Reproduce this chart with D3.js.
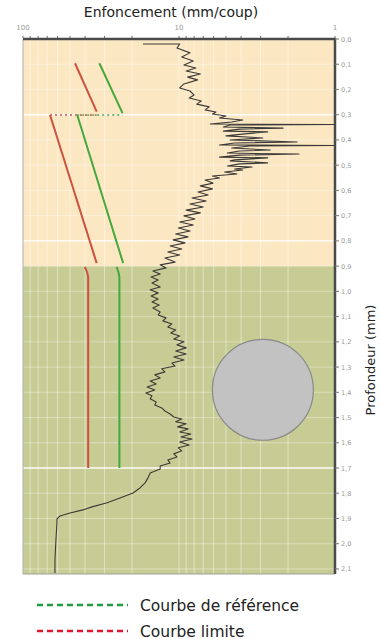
<!DOCTYPE html>
<html><head><meta charset="utf-8">
<script src="https://cdn.jsdelivr.net/npm/d3@7/dist/d3.min.js"></script>
<style>
html,body{margin:0;padding:0;background:#fff;}
svg{display:block;}
</style></head>
<body>
<svg id="c" width="380" height="639"></svg>
<script>
// ---- data ----
const xTickLabels = ["100", "10", "1"];
const xTickValues = [100, 10, 1];
const depthTicks = [0,0.1,0.2,0.3,0.4,0.5,0.6,0.7,0.8,0.9,1.0,1.1,1.2,1.3,1.4,1.5,1.6,1.7,1.8,1.9,2.0,2.1];
const depthTickLabels = ["0,0","0,1","0,2","0,3","0,4","0,5","0,6","0,7","0,8","0,9","1,0","1,1","1,2","1,3","1,4","1,5","1,6","1,7","1,8","1,9","2,0","2,1"];
const layerNames = ["Couche 1", "Couche 2"];
const layerTop = [0, 0.9];
const layerBottom = [0.9, 2.12];

// penetrogram (depth, mm/coup)
const profDepth = [0.020,0.020,0.036,0.055,0.071,0.087,0.103,0.115,0.127,0.139,0.151,0.162,0.178,0.194,0.206,0.222,0.234,0.246,0.258,0.269,0.281,0.289,0.297,0.305,0.313,0.321,0.329,0.337,0.339,0.341,0.349,0.353,0.357,0.365,0.368,0.376,0.384,0.392,0.400,0.408,0.412,0.420,0.422,0.424,0.432,0.440,0.444,0.452,0.456,0.460,0.468,0.471,0.479,0.483,0.491,0.495,0.503,0.507,0.515,0.519,0.527,0.535,0.543,0.551,0.559,0.571,0.582,0.594,0.606,0.618,0.630,0.642,0.654,0.666,0.678,0.689,0.701,0.713,0.725,0.737,0.749,0.761,0.773,0.784,0.796,0.808,0.820,0.832,0.844,0.856,0.868,0.884,0.895,0.907,0.919,0.931,0.943,0.955,0.967,0.983,0.994,1.006,1.018,1.030,1.042,1.054,1.066,1.082,1.094,1.105,1.117,1.129,1.141,1.153,1.165,1.177,1.189,1.200,1.212,1.224,1.236,1.248,1.260,1.272,1.284,1.296,1.307,1.319,1.331,1.343,1.355,1.367,1.379,1.391,1.403,1.414,1.426,1.438,1.450,1.462,1.474,1.486,1.498,1.506,1.517,1.525,1.537,1.545,1.557,1.565,1.577,1.585,1.597,1.609,1.620,1.632,1.644,1.656,1.668,1.680,1.692,1.704,1.720,1.739,1.759,1.779,1.799,1.819,1.838,1.854,1.866,1.878,1.890,1.902,1.918,1.985,2.064,2.116];
const profValue = [17.0,9.9,10.3,8.5,9.6,8.1,9.3,7.8,9.0,7.3,8.8,7.6,9.3,9.9,8.5,8.0,8.6,7.2,7.7,6.4,6.8,5.8,6.1,5.0,5.5,3.9,4.6,6.3,1.0,4.7,5.2,2.15,4.1,5.2,2.7,3.8,5.0,2.9,4.7,1.75,4.4,5.5,1.0,3.5,4.6,2.6,4.1,4.9,1.7,4.1,5.5,2.7,4.4,4.7,2.7,4.1,4.9,3.4,4.4,3.9,5.1,4.25,6.1,5.5,6.8,6.05,7.3,6.1,7.55,6.5,8.25,6.7,8.5,7.0,9.0,7.3,9.3,7.9,9.9,8.1,10.1,8.5,10.5,8.75,10.9,9.15,11.4,9.6,11.8,9.9,12.3,10.6,13.2,12.1,14.7,13.2,15.1,13.6,14.9,13.2,15.3,13.6,15.1,13.6,14.9,13.4,14.7,13.2,13.6,12.1,12.7,11.1,11.8,10.5,11.3,9.9,10.8,9.3,10.3,9.0,10.5,9.0,10.8,9.3,11.1,10.6,12.9,12.3,14.3,13.2,15.3,14.0,16.0,14.3,16.3,14.9,15.3,14.0,14.3,12.9,12.3,11.4,10.8,9.6,10.5,9.0,10.2,8.75,9.9,8.4,9.7,8.25,9.9,8.6,10.1,9.6,10.8,10.3,11.8,11.4,13.2,13.2,15.3,15.8,16.5,17.8,19.7,23.9,28.9,36.1,41.3,50.0,57.9,60.6,60.6,61.5,62.4,62.4];

// reference curves [depth, value]
const refUpper = [[0.096, 32.4], [0.294, 23.0]];
const refLower = [[0.301, 44.9], [0.888, 22.8]];
const refBottom = [[0.903, 25.1], [0.925, 24.4], [0.943, 24.1], [1.70, 24.1]];
const refStep = [[0.301, 44.9], [0.301, 23.0]];
const limUpper = [[0.096, 46.4], [0.288, 33.7]];
const limLower = [[0.301, 67.1], [0.888, 33.7]];
const limBottom = [[0.903, 40.1], [0.925, 38.8], [0.943, 38.2], [1.70, 38.2]];
const limStep = [[0.301, 67.1], [0.301, 33.7]];

// obstacle (circle) centre [value, depth] and radius (in depth units)
const obstacle = {value: 2.9, depth: 1.39, r: 0.2};

const legendLabels = ["Courbe de référence", "Courbe limite"];

// ---- drawing ----
const svg = d3.select("#c");
const L = 23, R = 335, T = 39, B = 574;
const x = d3.scaleLog().domain([100, 1]).range([L, R]);
const y = d3.scaleLinear().domain([0, 2.12]).range([T, B]);
const FONT = "'DejaVu Sans', sans-serif";

// layers
const layerColors = ["#fce7c3", "#c7cc94"];
svg.selectAll("rect.layer").data(layerTop).join("rect")
  .attr("x", L).attr("width", R - L)
  .attr("y", d => y(d)).attr("height", (d, i) => y(layerBottom[i]) - y(d))
  .attr("fill", (d, i) => layerColors[i]);

// vertical gridlines (log minor)
const minor = [];
[1, 10].forEach(dec => { for (let k = 2; k <= 9; k++) minor.push(k * dec); });
minor.push(10);
svg.append("g").selectAll("line").data(minor).join("line")
  .attr("x1", d => x(d)).attr("x2", d => x(d)).attr("y1", T).attr("y2", B)
  .attr("stroke", "#ffffff").attr("stroke-opacity", 0.45).attr("stroke-width", 1);

// horizontal gridlines
const strong = {0.3: 0.95, 0.8: 0.7, 1.7: 0.95};
svg.append("g").selectAll("line").data(depthTicks.filter(d => d > 0)).join("line")
  .attr("x1", L).attr("x2", R).attr("y1", d => y(d)).attr("y2", d => y(d))
  .attr("stroke", "#ffffff")
  .attr("stroke-opacity", d => strong[d.toFixed(1)] || 0.35)
  .attr("stroke-width", d => strong[d.toFixed(1)] ? 1.6 : 1);

// frame
svg.append("line").attr("x1", L).attr("x2", L).attr("y1", T).attr("y2", B).attr("stroke", "#b0b0b0");
svg.append("line").attr("x1", L).attr("x2", R).attr("y1", B).attr("y2", B).attr("stroke", "#a0a0a0");

// obstacle circle
const cy = y(obstacle.depth);
svg.append("circle").attr("cx", x(obstacle.value)).attr("cy", cy)
  .attr("r", y(obstacle.r) - y(0))
  .attr("fill", "#c2c2c2").attr("stroke", "#8a8a8a").attr("stroke-width", 1.2);

// reference / limit curves
const line = d3.line().x(d => x(d[1])).y(d => y(d[0]));
const GREEN = "#45a83c", RED = "#cc5240";
[refUpper, refLower, refBottom].forEach(s => svg.append("path").attr("d", line(s))
  .attr("fill", "none").attr("stroke", GREEN).attr("stroke-width", 2));
[limUpper, limLower, limBottom].forEach(s => svg.append("path").attr("d", line(s))
  .attr("fill", "none").attr("stroke", RED).attr("stroke-width", 2));
svg.append("path").attr("d", line(limStep)).attr("fill", "none").attr("stroke", RED)
  .attr("stroke-width", 1.6).attr("stroke-dasharray", "2,3");
svg.append("path").attr("d", line(refStep)).attr("fill", "none").attr("stroke", GREEN)
  .attr("stroke-width", 1.6).attr("stroke-dasharray", "2,3");

// penetrogram
const prof = profDepth.map((d, i) => [d, profValue[i]]);
svg.append("path").attr("d", line(prof)).attr("fill", "none")
  .attr("stroke", "#3c3a36").attr("stroke-width", 1.1).attr("stroke-linejoin", "round");

// top axis
svg.append("line").attr("x1", L).attr("x2", R).attr("y1", T).attr("y2", T)
  .attr("stroke", "#4a4a4a").attr("stroke-width", 2.5);
svg.append("g").selectAll("line").data(minor.concat([100, 1])).join("line")
  .attr("x1", d => x(d)).attr("x2", d => x(d)).attr("y1", T - 1).attr("y2", T - 3)
  .attr("stroke", "#666").attr("stroke-width", 1);
svg.append("g").selectAll("text").data(xTickValues).join("text")
  .attr("x", d => x(d)).attr("y", 30).attr("text-anchor", "middle")
  .attr("font-family", FONT).attr("font-size", 7).attr("fill", "#999")
  .text((d, i) => xTickLabels[i]);

// right axis
svg.append("line").attr("x1", R).attr("x2", R).attr("y1", T - 1).attr("y2", B)
  .attr("stroke", "#4a4a4a").attr("stroke-width", 2.5);
svg.append("g").selectAll("line").data(depthTicks).join("line")
  .attr("x1", R).attr("x2", R + 4).attr("y1", d => y(d)).attr("y2", d => y(d))
  .attr("stroke", "#777").attr("stroke-width", 1);
svg.append("g").selectAll("text").data(depthTicks).join("text")
  .attr("x", R + 6).attr("y", d => y(d) + 2.5)
  .attr("font-family", FONT).attr("font-size", 6.5).attr("fill", "#999")
  .text((d, i) => depthTickLabels[i]);

// titles
svg.append("text").attr("x", 171).attr("y", 17).attr("text-anchor", "middle")
  .attr("font-family", FONT).attr("font-size", 14).attr("fill", "#222")
  .text("Enfoncement (mm/coup)");
svg.append("text").attr("transform", "translate(375,360) rotate(-90)")
  .attr("text-anchor", "middle").attr("font-family", FONT).attr("font-size", 13)
  .attr("fill", "#222").text("Profondeur (mm)");

// legend
const legColors = ["#1f9a3f", "#e0162e"];
const legY = [605, 631];
legendLabels.forEach((lab, i) => {
  svg.append("line").attr("x1", 37).attr("x2", 128).attr("y1", legY[i]).attr("y2", legY[i])
    .attr("stroke", legColors[i]).attr("stroke-width", 2.5).attr("stroke-dasharray", "6,4");
  svg.append("text").attr("x", 140).attr("y", legY[i] + 5.5)
    .attr("font-family", FONT).attr("font-size", 15.5).attr("fill", "#222").text(lab);
});
</script>
</body></html>
